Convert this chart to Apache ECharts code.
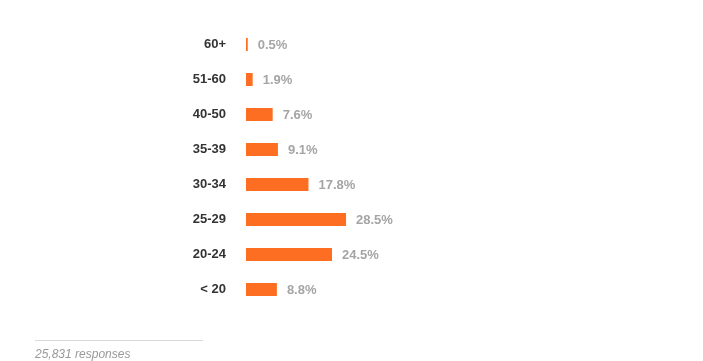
<!DOCTYPE html>
<html><head><meta charset="utf-8">
<script src="https://cdn.jsdelivr.net/npm/echarts@6/dist/echarts.min.js"></script>
<style>html,body{margin:0;padding:0;background:#fff}#c{width:703px;height:361px}</style>
</head><body><div id="c"></div>
<script>
const categories = ["< 20", "20-24", "25-29", "30-34", "35-39", "40-50", "51-60", "60+"];
const values = [8.8, 24.5, 28.5, 17.8, 9.1, 7.6, 1.9, 0.5];
const footnote = "25,831 responses";

const chart = echarts.init(document.getElementById('c'), null, {renderer: 'canvas'});
chart.setOption({
  animation: false,
  grid: {left: 246, top: 27, width: 351, height: 280},
  xAxis: {type: 'value', min: 0, max: 100, show: false},
  yAxis: {
    type: 'category', data: categories,
    axisLine: {show: false}, axisTick: {show: false}, splitLine: {show: false},
    axisLabel: {margin: 20, color: '#333', fontWeight: 'bold', fontSize: 13, fontFamily: 'Liberation Sans, Arial, sans-serif'}
  },
  series: [{
    type: 'bar', data: values, barWidth: 13,
    itemStyle: {color: '#fd6e23'},
    label: {show: true, position: 'right', distance: 10, offset: [0, 1], formatter: p => p.value + '%',
      color: '#a5a5a5', fontWeight: 'bold', fontSize: 13, fontFamily: 'Liberation Sans, Arial, sans-serif'}
  }],
  graphic: [
    {type: 'line', shape: {x1: 35, y1: 340.5, x2: 203, y2: 340.5}, style: {stroke: '#d8d8d8', lineWidth: 1}},
    {type: 'text', left: 35, top: 349, style: {text: footnote, fill: '#999', font: 'italic 12px Liberation Sans, Arial, sans-serif'}}
  ]
});
</script></body></html>
